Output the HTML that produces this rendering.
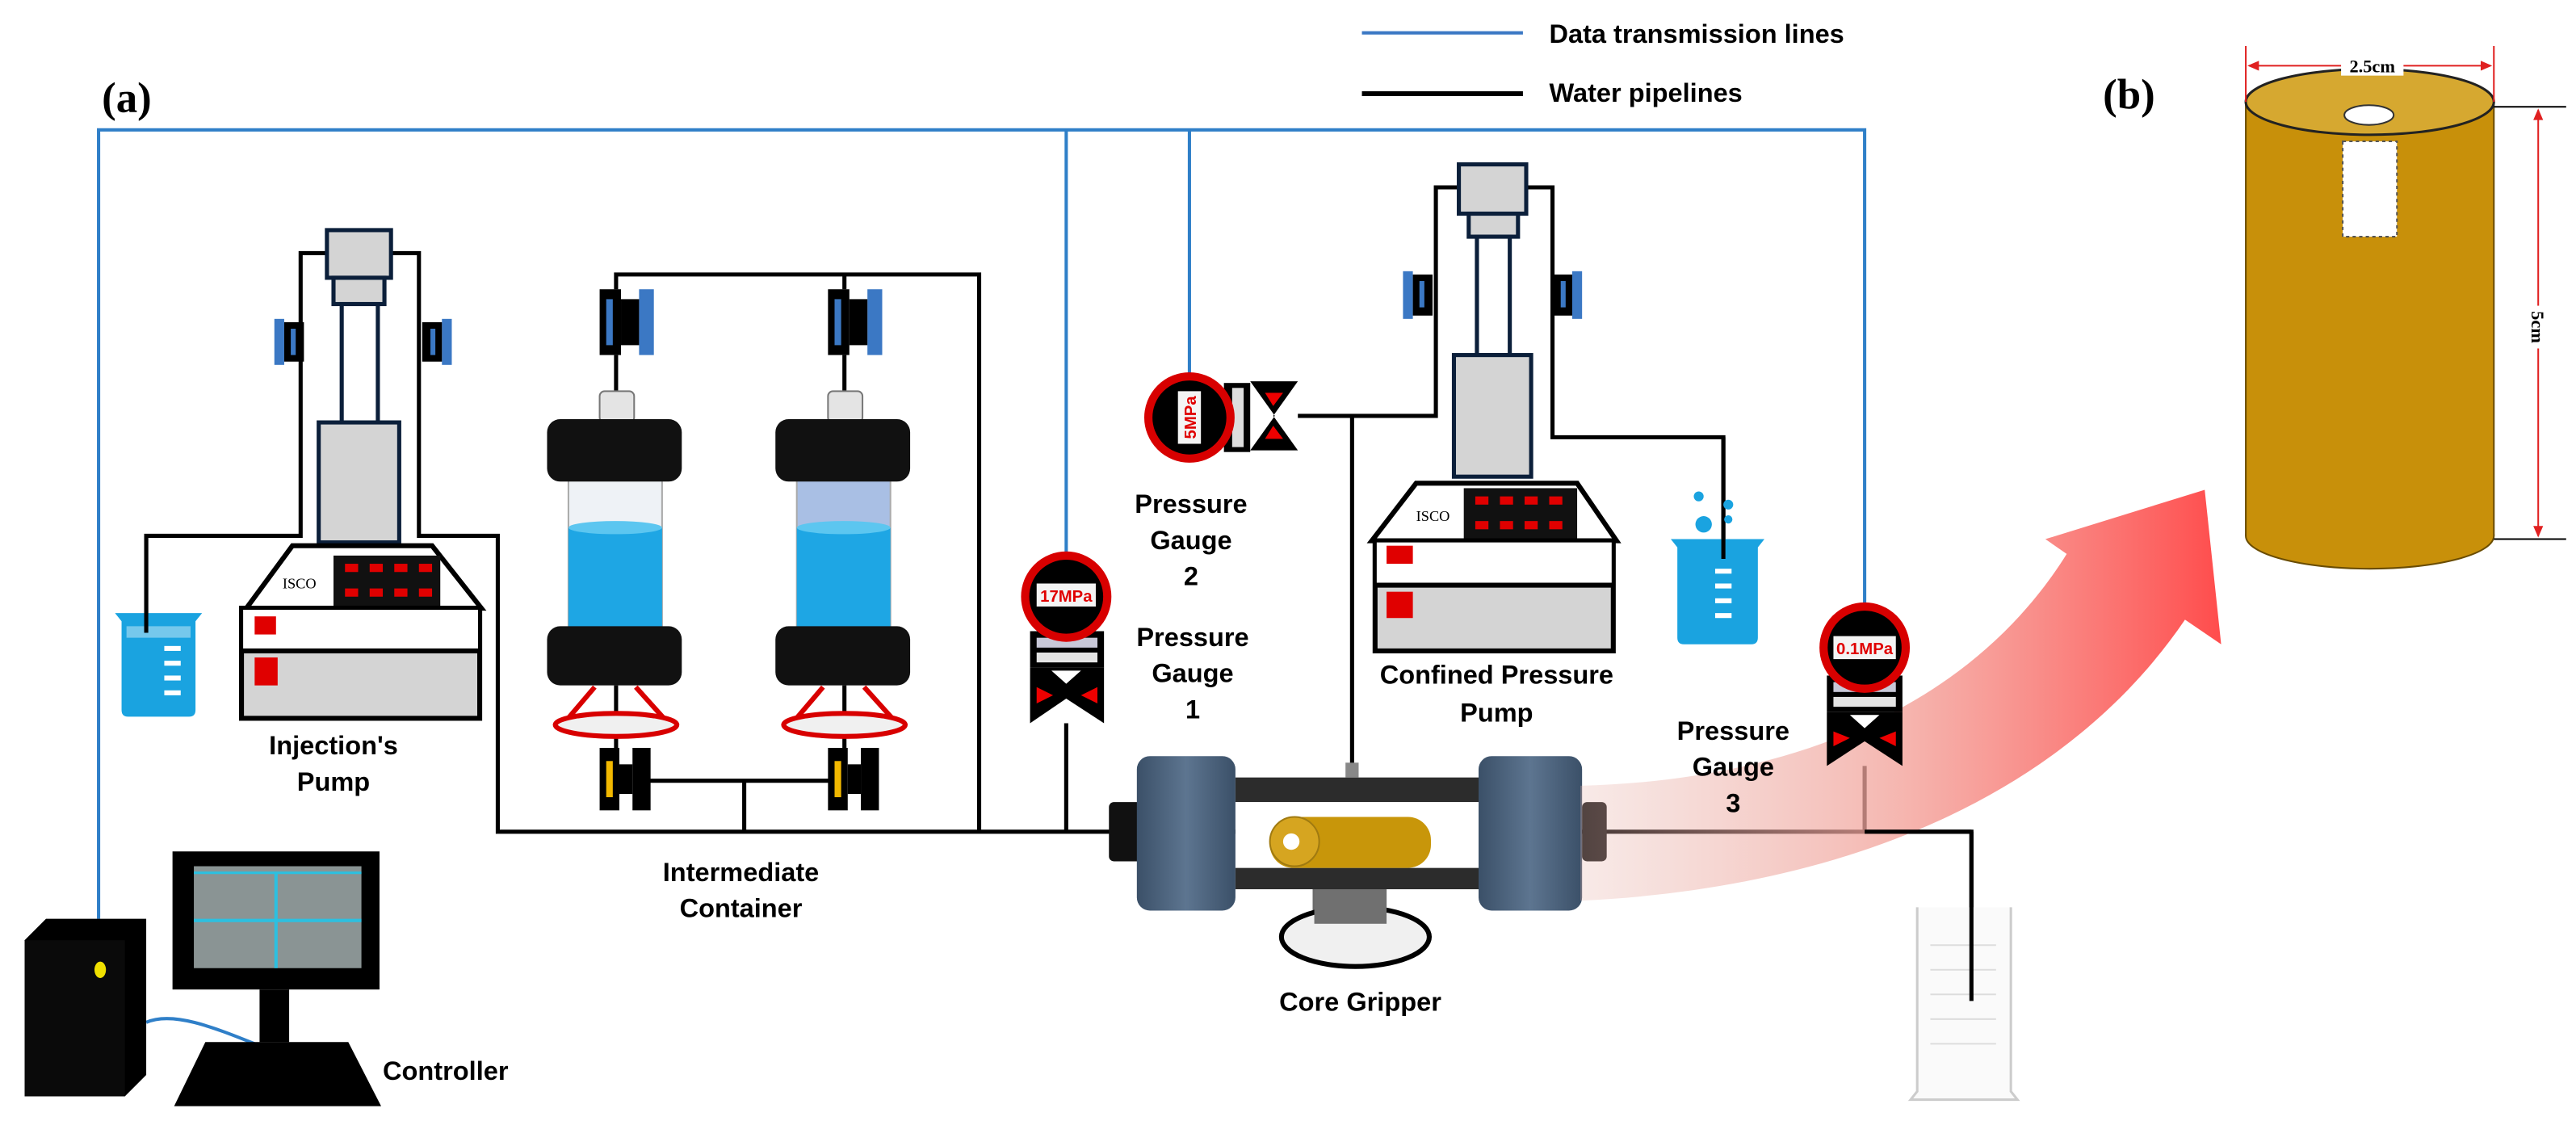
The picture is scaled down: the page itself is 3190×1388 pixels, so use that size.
<!DOCTYPE html>
<html><head><meta charset="utf-8"><style>
html,body{margin:0;padding:0;background:#fff;}
svg{display:block;}
text{font-family:"Liberation Sans",sans-serif;font-weight:bold;}
</style></head><body>
<svg width="3190" height="1388" viewBox="0 0 1568 682" preserveAspectRatio="none" xmlns="http://www.w3.org/2000/svg">
<defs>
<linearGradient id="arr" x1="0" y1="0" x2="1" y2="0">
<stop offset="0" stop-color="#e8b8b0" stop-opacity="0.3"/>
<stop offset="0.5" stop-color="#f3a49c" stop-opacity="0.8"/>
<stop offset="1" stop-color="#ff4c4c"/>
</linearGradient>
<linearGradient id="cyl" x1="0" y1="0" x2="1" y2="0">
<stop offset="0" stop-color="#3b5068"/><stop offset="0.5" stop-color="#5d7590"/><stop offset="1" stop-color="#3b5068"/>
</linearGradient>
</defs>

<!-- legend -->
<line x1="829" y1="20" x2="927" y2="20" stroke="#3b78c4" stroke-width="2"/>
<text x="943" y="26" font-size="16">Data transmission lines</text>
<line x1="829" y1="57" x2="927" y2="57" stroke="#000" stroke-width="3"/>
<text x="943" y="62" font-size="16">Water pipelines</text>
<text x="62" y="68" font-size="26" style="font-family:'Liberation Serif',serif">(a)</text>
<text x="1280" y="66" font-size="26" style="font-family:'Liberation Serif',serif">(b)</text>

<!-- blue data lines -->
<g stroke="#2f7fc8" stroke-width="2" fill="none">
<polyline points="60,559 60,79 1135,79 1135,370"/>
<line x1="649" y1="79" x2="649" y2="339"/>
<line x1="724" y1="79" x2="724" y2="227"/>
<path d="M89,622 C105,615 130,625 155,635"/>
</g>

<!-- water pipelines -->
<g stroke="#000" stroke-width="2.5" fill="none">
<polyline points="199,154 183,154 183,326 89,326 89,383"/>
<polyline points="238,154 255,154 255,326 303,326 303,506 1200,506 1200,609"/>
<polyline points="375,176 375,167 596,167 596,506"/>
<line x1="514" y1="167" x2="514" y2="176"/>
<line x1="375" y1="216" x2="375" y2="238"/>
<line x1="514" y1="216" x2="514" y2="238"/>
<line x1="375" y1="417" x2="375" y2="455"/>
<line x1="514" y1="417" x2="514" y2="455"/>
<line x1="390" y1="475" x2="505" y2="475"/>
<line x1="453" y1="475" x2="453" y2="506"/>
<line x1="649" y1="440" x2="649" y2="506"/>
<line x1="1135" y1="466" x2="1135" y2="506"/>
<polyline points="888,114 874,114 874,253 790,253"/>
<line x1="823" y1="253" x2="823" y2="466"/>
<polyline points="929,114 945,114 945,266 1049,266 1049,339"/>
</g>

<!-- Injection pump -->
<g stroke="#0b1f3a" stroke-width="2.5">
<rect x="199" y="140" width="39" height="29" fill="#d4d4d4"/>
<rect x="203" y="169" width="31" height="16" fill="#d4d4d4"/>
<rect x="208" y="185" width="22" height="72" fill="#fff"/>
<rect x="194" y="257" width="49" height="73" fill="#d4d4d4"/>
</g>
<rect x="167" y="194" width="6" height="28" fill="#3b78c4"/><rect x="173" y="196" width="12" height="24" fill="#000"/><rect x="177" y="200" width="3" height="16" fill="#3b78c4"/>
<rect x="269" y="194" width="6" height="28" fill="#3b78c4"/><rect x="257" y="196" width="12" height="24" fill="#000"/><rect x="262" y="200" width="3" height="16" fill="#3b78c4"/>
<polygon points="150,370 178,332 263,332 293,370" fill="#fff" stroke="#000" stroke-width="3"/>
<rect x="203" y="338" width="65" height="31" fill="#111"/>
<g fill="#e00000"><rect x="210" y="343" width="8" height="5"/><rect x="225" y="343" width="8" height="5"/><rect x="240" y="343" width="8" height="5"/><rect x="255" y="343" width="8" height="5"/><rect x="210" y="358" width="8" height="5"/><rect x="225" y="358" width="8" height="5"/><rect x="240" y="358" width="8" height="5"/><rect x="255" y="358" width="8" height="5"/></g>
<text x="172" y="358" font-size="9" style="font-family:'Liberation Serif',serif;font-weight:normal">ISCO</text>
<rect x="147" y="370" width="145" height="67" fill="#d4d4d4" stroke="#000" stroke-width="3"/>
<rect x="148" y="371" width="143" height="25" fill="#fff"/>
<line x1="147" y1="396" x2="292" y2="396" stroke="#000" stroke-width="3"/>
<rect x="155" y="375" width="13" height="11" fill="#e00000"/>
<rect x="155" y="400" width="14" height="17" fill="#e00000"/>
<!-- left beaker -->
<path d="M70,373 L123,373 L119,378 L119,432 Q119,436 115,436 L78,436 Q74,436 74,432 L74,378 Z" fill="#1aa3e0"/>
<path d="M77,381 L116,381 L116,388 L77,388 Z" fill="#fff" opacity="0.4"/>
<g fill="#fff"><rect x="100" y="393" width="10" height="3"/><rect x="100" y="402" width="10" height="3"/><rect x="100" y="411" width="10" height="3"/><rect x="100" y="420" width="10" height="3"/></g>
<line x1="89" y1="326" x2="89" y2="385" stroke="#000" stroke-width="2.5"/>
<text x="203" y="459" font-size="16" text-anchor="middle">Injection's</text>
<text x="203" y="481" font-size="16" text-anchor="middle">Pump</text>

<!-- Intermediate containers -->
<g>
<rect x="365" y="176" width="13" height="40" fill="#000"/><rect x="369" y="182" width="4" height="28" fill="#3b78c4"/><rect x="389" y="176" width="9" height="40" fill="#3b78c4"/><rect x="378" y="182" width="11" height="28" fill="#000"/>
<rect x="365" y="238" width="21" height="19" rx="3" fill="#e4e4e4" stroke="#777"/>
<rect x="346" y="290" width="57" height="93" fill="#eef2f6" stroke="#aaa"/>
<rect x="346" y="321" width="57" height="62" fill="#1ea6e4"/>
<ellipse cx="374.5" cy="321" rx="28.5" ry="4" fill="#5cc6f0"/>
<rect x="333" y="255" width="82" height="38" rx="8" fill="#111"/>
<rect x="333" y="381" width="82" height="36" rx="8" fill="#111"/>
<path d="M362,418 L345,438 M387,418 L405,438" stroke="#d80000" stroke-width="3"/>
<ellipse cx="375" cy="441" rx="37" ry="7" fill="#f0f0f0" stroke="#d80000" stroke-width="3"/>
<rect x="365" y="455" width="12" height="38" fill="#000"/><rect x="369" y="463" width="4" height="22" fill="#f2b800"/><rect x="377" y="465" width="8" height="18" fill="#000"/><rect x="385" y="455" width="11" height="38" fill="#000"/>
</g>
<g>
<rect x="504" y="176" width="13" height="40" fill="#000"/><rect x="508" y="182" width="4" height="28" fill="#3b78c4"/><rect x="528" y="176" width="9" height="40" fill="#3b78c4"/><rect x="517" y="182" width="11" height="28" fill="#000"/>
<rect x="504" y="238" width="21" height="19" rx="3" fill="#e4e4e4" stroke="#777"/>
<rect x="485" y="290" width="57" height="93" fill="#a9bfe4" stroke="#aaa"/>
<rect x="485" y="321" width="57" height="62" fill="#1ea6e4"/>
<ellipse cx="513.5" cy="321" rx="28.5" ry="4" fill="#5cc6f0"/>
<rect x="472" y="255" width="82" height="38" rx="8" fill="#111"/>
<rect x="472" y="381" width="82" height="36" rx="8" fill="#111"/>
<path d="M501,418 L484,438 M526,418 L544,438" stroke="#d80000" stroke-width="3"/>
<ellipse cx="514" cy="441" rx="37" ry="7" fill="#f0f0f0" stroke="#d80000" stroke-width="3"/>
<rect x="504" y="455" width="12" height="38" fill="#000"/><rect x="508" y="463" width="4" height="22" fill="#f2b800"/><rect x="516" y="465" width="8" height="18" fill="#000"/><rect x="524" y="455" width="11" height="38" fill="#000"/>
</g>
<text x="451" y="536" font-size="16" text-anchor="middle">Intermediate</text>
<text x="451" y="558" font-size="16" text-anchor="middle">Container</text>

<!-- Gauge 1 -->
<rect x="627" y="384" width="45" height="22" fill="#000"/>
<rect x="631" y="388" width="37" height="6" fill="#c8c8d8"/>
<rect x="631" y="397" width="37" height="6" fill="#e4e4e4"/>
<polygon points="627,406 672,406 672,440 649,425 627,440" fill="#000"/>
<polygon points="640,408 658,408 649,416" fill="#fff"/>
<polygon points="631,418 641,423 631,428" fill="#e00"/><polygon points="668,418 658,423 668,428" fill="#e00"/>
<circle cx="649" cy="363" r="25" fill="#000" stroke="#d80000" stroke-width="5"/>
<rect x="631" y="355" width="36" height="14" fill="#f4f4f4"/>
<text x="649" y="366" font-size="10" fill="#e00000" text-anchor="middle">17MPa</text>
<text x="726" y="393" font-size="16" text-anchor="middle">Pressure</text>
<text x="726" y="415" font-size="16" text-anchor="middle">Gauge</text>
<text x="726" y="437" font-size="16" text-anchor="middle">1</text>

<!-- Gauge 2 -->
<rect x="745" y="233" width="16" height="42" fill="#000"/>
<rect x="750" y="236" width="7" height="36" fill="#ddd"/>
<polygon points="761,232 790,232 775,253 790,274 761,274 776,253" fill="#000"/>
<polygon points="770,239 781,239 775,247" fill="#e00"/><polygon points="770,267 781,267 775,259" fill="#e00"/>
<circle cx="724" cy="254" r="25" fill="#000" stroke="#d80000" stroke-width="5"/>
<rect x="717" y="238" width="14" height="32" fill="#f4f4f4"/>
<text x="0" y="0" font-size="10" fill="#e00000" text-anchor="middle" transform="translate(728,254) rotate(-90)">5MPa</text>
<text x="725" y="312" font-size="16" text-anchor="middle">Pressure</text>
<text x="725" y="334" font-size="16" text-anchor="middle">Gauge</text>
<text x="725" y="356" font-size="16" text-anchor="middle">2</text>

<!-- Confined pump -->
<g stroke="#0b1f3a" stroke-width="2.5">
<rect x="888" y="100" width="41" height="30" fill="#d4d4d4"/>
<rect x="894" y="130" width="30" height="14" fill="#d4d4d4"/>
<rect x="899" y="144" width="20" height="72" fill="#fff"/>
<rect x="885" y="216" width="47" height="74" fill="#d4d4d4"/>
</g>
<rect x="854" y="165" width="6" height="29" fill="#3b78c4"/><rect x="860" y="167" width="12" height="25" fill="#000"/><rect x="864" y="171" width="3" height="16" fill="#3b78c4"/>
<rect x="957" y="165" width="6" height="29" fill="#3b78c4"/><rect x="945" y="167" width="12" height="25" fill="#000"/><rect x="950" y="171" width="3" height="16" fill="#3b78c4"/>
<polygon points="835,329 862,294 960,294 984,329" fill="#fff" stroke="#000" stroke-width="3"/>
<rect x="891" y="297" width="69" height="31" fill="#111"/>
<g fill="#e00000"><rect x="898" y="302" width="8" height="5"/><rect x="913" y="302" width="8" height="5"/><rect x="928" y="302" width="8" height="5"/><rect x="943" y="302" width="8" height="5"/><rect x="898" y="317" width="8" height="5"/><rect x="913" y="317" width="8" height="5"/><rect x="928" y="317" width="8" height="5"/><rect x="943" y="317" width="8" height="5"/></g>
<text x="862" y="317" font-size="9" style="font-family:'Liberation Serif',serif;font-weight:normal">ISCO</text>
<rect x="837" y="329" width="145" height="67" fill="#d4d4d4" stroke="#000" stroke-width="3"/>
<rect x="838" y="330" width="143" height="26" fill="#fff"/>
<line x1="837" y1="356" x2="982" y2="356" stroke="#000" stroke-width="3"/>
<rect x="844" y="332" width="16" height="11" fill="#e00000"/>
<rect x="844" y="360" width="16" height="16" fill="#e00000"/>
<text x="911" y="416" font-size="16" text-anchor="middle">Confined Pressure</text>
<text x="911" y="439" font-size="16" text-anchor="middle">Pump</text>
<!-- right beaker -->
<path d="M1017,328 L1074,328 L1070,333 L1070,388 Q1070,392 1066,392 L1025,392 Q1021,392 1021,388 L1021,333 Z" fill="#1aa3e0"/>
<g fill="#fff"><rect x="1044" y="346" width="10" height="3"/><rect x="1044" y="355" width="10" height="3"/><rect x="1044" y="364" width="10" height="3"/><rect x="1044" y="373" width="10" height="3"/></g>
<line x1="1049" y1="266" x2="1049" y2="340" stroke="#000" stroke-width="2.5"/>
<circle cx="1034" cy="302" r="3" fill="#1aa3e0"/><circle cx="1052" cy="307" r="3" fill="#1aa3e0"/><circle cx="1037" cy="319" r="5" fill="#1aa3e0"/><circle cx="1052" cy="316" r="2.5" fill="#1aa3e0"/>

<!-- Core gripper -->
<rect x="799" y="539" width="45" height="29" fill="#6a6a6a"/>
<ellipse cx="825" cy="570" rx="45" ry="18" fill="#f0f0f0" stroke="#000" stroke-width="3"/>
<rect x="800" y="540" width="44" height="22" fill="#707070"/>
<rect x="752" y="473" width="154" height="15" fill="#2c2c2c"/>
<rect x="752" y="528" width="154" height="13" fill="#2c2c2c"/>
<rect x="752" y="488" width="154" height="40" fill="#fff"/>
<rect x="773" y="497" width="98" height="31" rx="14" fill="#c8960a"/>
<ellipse cx="788" cy="512" rx="15" ry="15" fill="#d6a520" stroke="#a07a10"/>
<circle cx="786" cy="512" r="5" fill="#fff"/>
<rect x="819" y="464" width="8" height="9" fill="#888"/>
<rect x="675" y="488" width="20" height="36" rx="3" fill="#111"/>
<rect x="692" y="460" width="60" height="94" rx="8" fill="url(#cyl)"/>
<rect x="900" y="460" width="63" height="94" rx="8" fill="url(#cyl)"/>
<rect x="963" y="488" width="15" height="36" rx="3" fill="#111"/>
<text x="828" y="615" font-size="16" text-anchor="middle">Core Gripper</text>

<!-- big pink arrow (behind gauge 3) -->
<path d="M962,478 C1090,475 1200,430 1258,337 L1245,328 L1342,298 L1352,392 L1330,377 C1260,480 1130,540 962,548 Z" fill="url(#arr)"/>

<!-- Gauge 3 -->
<rect x="1112" y="411" width="46" height="22" fill="#000"/>
<rect x="1116" y="415" width="38" height="6" fill="#c8c8d8"/>
<rect x="1116" y="424" width="38" height="6" fill="#e4e4e4"/>
<polygon points="1112,433 1158,433 1158,466 1135,451 1112,466" fill="#000"/>
<polygon points="1126,435 1144,435 1135,443" fill="#fff"/>
<polygon points="1116,445 1126,449 1116,454" fill="#e00"/><polygon points="1154,445 1144,449 1154,454" fill="#e00"/>
<circle cx="1135" cy="394" r="25" fill="#000" stroke="#d80000" stroke-width="5"/>
<rect x="1116" y="387" width="38" height="14" fill="#f4f4f4"/>
<text x="1135" y="398" font-size="10" fill="#e00000" text-anchor="middle">0.1MPa</text>
<text x="1055" y="450" font-size="16" text-anchor="middle">Pressure</text>
<text x="1055" y="472" font-size="16" text-anchor="middle">Gauge</text>
<text x="1055" y="494" font-size="16" text-anchor="middle">3</text>

<!-- graduated cylinder -->
<path d="M1167,552 L1167,664 L1163,669 L1228,669 L1224,664 L1224,552" fill="#fafafa" stroke="#ccc" stroke-width="1.5"/>
<g stroke="#ddd" stroke-width="1"><line x1="1175" y1="575" x2="1215" y2="575"/><line x1="1175" y1="590" x2="1215" y2="590"/><line x1="1175" y1="605" x2="1215" y2="605"/><line x1="1175" y1="620" x2="1215" y2="620"/><line x1="1175" y1="635" x2="1215" y2="635"/></g>
<line x1="1135" y1="506" x2="1200" y2="506" stroke="#000" stroke-width="2.5"/>
<line x1="1200" y1="506" x2="1200" y2="609" stroke="#000" stroke-width="2.5"/>

<!-- computer -->
<polygon points="15,572 28,559 89,559 89,654 76,667 15,667" fill="#000"/>
<rect x="15" y="572" width="61" height="95" fill="#0a0a0a"/>
<ellipse cx="61" cy="590" rx="3.5" ry="5" fill="#f0e000"/>
<rect x="105" y="518" width="126" height="84" fill="#000"/>
<rect x="118" y="527" width="102" height="62" fill="#8a9494"/>
<line x1="118" y1="531" x2="220" y2="531" stroke="#2cc0e0" stroke-width="1.5"/>
<line x1="118" y1="560" x2="220" y2="560" stroke="#2cc0e0" stroke-width="2"/>
<line x1="168" y1="531" x2="168" y2="589" stroke="#2cc0e0" stroke-width="2"/>
<rect x="158" y="602" width="18" height="32" fill="#000"/>
<polygon points="125,634 212,634 232,673 106,673" fill="#000"/>
<text x="233" y="657" font-size="16">Controller</text>

<!-- cylinder (b) -->
<ellipse cx="1442.5" cy="326" rx="75.5" ry="20" fill="#c8900a" stroke="#6a4c00" stroke-width="1"/>
<rect x="1367" y="62" width="151" height="264" fill="#c8900a"/>
<line x1="1367" y1="62" x2="1367" y2="326" stroke="#6a4c00"/>
<line x1="1518" y1="62" x2="1518" y2="326" stroke="#6a4c00"/>
<ellipse cx="1442.5" cy="62" rx="75.5" ry="20" fill="#d6a830" stroke="#222" stroke-width="1.5"/>
<ellipse cx="1442" cy="70" rx="15" ry="6" fill="#fff" stroke="#333"/>
<rect x="1426" y="86" width="33" height="58" fill="#fff" stroke="#555" stroke-dasharray="2,2"/>
<g stroke="#e02020" stroke-width="1">
<line x1="1367" y1="28" x2="1367" y2="62"/><line x1="1518" y1="28" x2="1518" y2="62"/>
<line x1="1369" y1="40" x2="1516" y2="40"/>
<line x1="1518" y1="65" x2="1562" y2="65" stroke="#000"/><line x1="1518" y1="328" x2="1562" y2="328" stroke="#000"/>
<line x1="1545" y1="67" x2="1545" y2="326"/>
</g>
<polygon points="1368,40 1375,37 1375,43" fill="#e02020"/><polygon points="1517,40 1510,37 1510,43" fill="#e02020"/>
<polygon points="1545,66 1542,73 1548,73" fill="#e02020"/><polygon points="1545,327 1542,320 1548,320" fill="#e02020"/>
<rect x="1425" y="33" width="38" height="13" fill="#fff"/>
<text x="1444" y="44" font-size="11" text-anchor="middle" style="font-family:'Liberation Serif',serif">2.5cm</text>
<rect x="1539" y="186" width="12" height="26" fill="#fff"/>
<text x="0" y="0" font-size="11" text-anchor="middle" transform="translate(1541,199) rotate(90)" style="font-family:'Liberation Serif',serif">5cm</text>
</svg>
</body></html>
